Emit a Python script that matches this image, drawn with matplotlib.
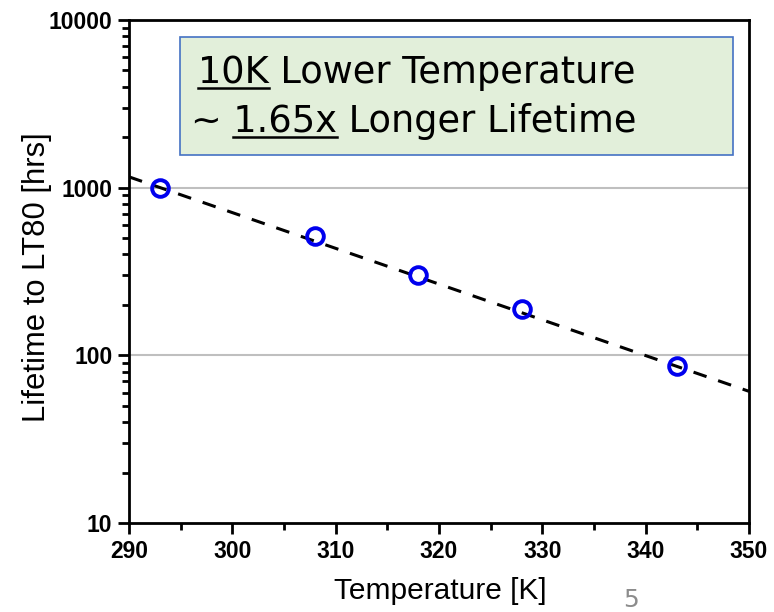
import matplotlib
matplotlib.use("Agg")
import matplotlib.pyplot as plt
from matplotlib.ticker import LogLocator, NullFormatter, MultipleLocator
from matplotlib.patches import Rectangle
from matplotlib.lines import Line2D

temps = [293, 308, 318, 328, 343]
lifetimes = [1000, 515, 300, 190, 86]
fit_x = [290, 350]
fit_y = [1160, 61]
xticks = [290, 300, 310, 320, 330, 340, 350]
yticks = [10, 100, 1000, 10000]
ytick_labels = ["10", "100", "1000", "10000"]

W, H = 774, 612
fig = plt.figure(figsize=(W/100, H/100), dpi=100)
ax = fig.add_axes([129/W, 1 - 523/H, 620/W, 503/H])

ax.set_yscale("log")
ax.set_xlim(290, 350)
ax.set_ylim(10, 10000)

ax.plot(fit_x, fit_y, color="black", lw=2.2, ls=(0, (4.5, 4)), zorder=3)
ax.plot(temps, lifetimes, ls="none", marker="o", ms=12, mfc="none",
        mec="#0000ee", mew=2.8, zorder=4)

ax.set_yticks(yticks)
ax.set_yticklabels(ytick_labels)
ax.yaxis.set_minor_locator(LogLocator(base=10, subs=range(2, 10)))
ax.yaxis.set_minor_formatter(NullFormatter())
ax.set_xticks(xticks)
ax.xaxis.set_minor_locator(MultipleLocator(5))

for y in [100, 1000]:
    ax.axhline(y, color="#bfbfbf", lw=1.5, zorder=1)

for s in ax.spines.values():
    s.set_linewidth(2)
    s.set_color("black")

ax.tick_params(axis="both", which="major", direction="out", length=8, width=2,
               labelsize=16.5, pad=4)
ax.tick_params(axis="both", which="minor", direction="out", length=5, width=2)
for lab in ax.get_xticklabels() + ax.get_yticklabels():
    lab.set_fontfamily("Liberation Sans")
    lab.set_fontweight("bold")

fig.text(440/W, 1 - 599/H, "Temperature [K]", fontsize=21.5, family="Liberation Sans",
         ha="center", va="baseline")
fig.text(37/W, 1 - 277/H, "Lifetime to LT80 [hrs]", fontsize=22.3, family="Liberation Sans",
         ha="center", va="center", rotation=90)

# annotation box
box = Rectangle((180/W, 1 - 155/H), (733 - 180)/W, (155 - 37)/H,
                transform=fig.transFigure, facecolor="#e2efda", edgecolor="#4472c4",
                lw=1.2, zorder=5)
fig.patches.append(box)

lines_spec = [
    (198, 83, "10K Lower Temperature", "", "10K"),
    (191, 132, "~ 1.65x Longer Lifetime", "~ ", "~ 1.65x"),
]
fs = 26.5
fig.canvas.draw()
r = fig.canvas.get_renderer()
for x0, ybase, full, pre, upto in lines_spec:
    fig.text(x0/W, 1 - ybase/H, full, fontsize=fs, family="DejaVu Sans",
             va="baseline", ha="left", zorder=6)
    def width(s):
        if not s:
            return 0.0
        t = fig.text(0, 0, s.replace(" ", "\u00a0"), fontsize=fs, family="DejaVu Sans")
        w = t.get_window_extent(renderer=r).width
        t.remove()
        return w
    xa = x0 + width(pre)
    xb = x0 + width(upto)
    yl = ybase + 5
    fig.add_artist(Line2D([xa/W, xb/W], [1 - yl/H, 1 - yl/H], transform=fig.transFigure,
                          color="black", lw=1.8, zorder=6))

fig.text(631/W, 1 - 607/H, "5", fontsize=18, color="#8c8c8c",
         family="DejaVu Sans", ha="center", va="baseline")

fig.savefig("out.png", dpi=100)
